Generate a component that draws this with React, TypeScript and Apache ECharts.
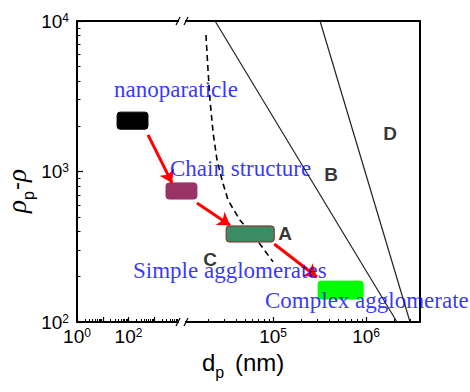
import React, { useEffect, useRef } from 'react';
import * as echarts from 'echarts';

// ---- broken x axis: 10^0..10^4 compressed, 10^4..max at full scale ----
const K = 25.75 / 93;
const toU = (d: number) => {
  const l = Math.log10(d);
  return l <= 4 ? l * K : 4 * K + (l - 4);
};
const fromU = (u: number) => (u <= 4 * K + 1e-9 ? Math.pow(10, u / K) : Math.pow(10, 4 + u - 4 * K));

const xMin = 1;
const xMax = 3.8e6;
const xBreakAt = 1e4;
const yMin = 100;
const yMax = 10000;

const xMajorTicks = [1, 10, 100, 1000, 1e5, 1e6];
const xTickLabels = [1, 100, 1e5, 1e6];
const yMajorTicks = [100, 1000, 10000];
const minorMultipliers = [2, 3, 4, 5, 6, 7, 8, 9];
const xMinorDecades = [1, 10, 100, 1000, 1e4, 1e5, 1e6];
const yMinorDecades = [100, 1000];

// ---- curves (dp in nm, rho) ----
const dashedDp = [19000, 20000, 21000, 22700, 25000, 28300, 32800, 44000, 67000, 100000];
const dashedRho = [8070, 4720, 2985, 1800, 1192, 877, 646, 476, 351, 251];
const lineBDp = [23800, 2150000];
const lineBRho = [10000, 100];
const lineDDp = [320000, 2970000];
const lineDRho = [10000, 100];

// ---- boxes: [dpMin, dpMax, rhoMin, rhoMax] ----
const boxDpMin = [36, 2860, 31300, 305000];
const boxDpMax = [570, 15200, 103000, 930000];
const boxRhoMin = [1910, 656, 340, 142];
const boxRhoMax = [2480, 840, 435, 187];
const boxFill = ['#000000', '#993366', '#3a8c62', '#00ff00'];
const boxStroke = ['#000000', '#993366', '#8b2525', '#00ff00'];

// ---- arrows ----
const arrowFromDp = [572, 15200, 103000];
const arrowFromRho = [1750, 618, 330];
const arrowToDp = [4890, 34500, 297000];
const arrowToRho = [840, 440, 199];

// ---- annotations ----
const annotTexts = ['nanoparaticle', 'Chain structure', 'Simple agglomerates', 'Complex agglomerate'];
const annotDp = [27.4, 4090, 150, 82000];
const annotRho = [3480, 1047, 219, 139];
const regionNames = ['A', 'B', 'C', 'D'];
const regionDp = [135000, 420000, 21000, 1810000];
const regionRho = [390, 962, 262, 1775];

const minorList = (decades: number[], lo: number, hi: number) => {
  const out: number[] = [];
  decades.forEach((d) => minorMultipliers.forEach((m) => {
    const v = d * m;
    if (v > lo && v < hi) out.push(v);
  }));
  return out;
};

const tickRich = {
  b: { fontSize: 19, lineHeight: 19, fontFamily: 'Liberation Sans', color: '#000', verticalAlign: 'top' as const },
  s: { fontSize: 12, lineHeight: 7, fontFamily: 'Liberation Sans', color: '#000', verticalAlign: 'top' as const },
};

export default function App() {
  const ref = useRef<HTMLDivElement>(null);
  useEffect(() => {
    document.body.style.margin = '0';
    if (!ref.current) return;
    const chart = echarts.init(ref.current, null, { renderer: 'svg' });
    const uMax = toU(xMax);
    const xMinor = minorList(xMinorDecades, xMin, xMax);
    const yMinor = minorList(yMinorDecades, yMin, yMax);
    const lineWidthAxis = 2;

    const option: any = {
      animation: false,
      backgroundColor: '#fff',
      grid: { left: 77, right: 50, top: 21, bottom: 70, containLabel: false },
      xAxis: [
        {
          type: 'value', min: toU(xMin), max: uMax, position: 'bottom',
          axisLine: { show: true, onZero: false, lineStyle: { color: '#000', width: lineWidthAxis } },
          axisTick: { show: true, inside: true, length: 5, lineStyle: { color: '#000', width: 1.2 }, customValues: xMajorTicks.map(toU) },
          axisLabel: {
            show: true, margin: 5, customValues: xTickLabels.map(toU),
            fontSize: 19, fontFamily: 'Liberation Sans', color: '#000',
            formatter: (v: number) => `{b|10}{s|${Math.round(Math.log10(fromU(v)))}}`,
            rich: tickRich,
          },
          splitLine: { show: false },
        },
        {
          type: 'value', min: toU(xMin), max: uMax, position: 'bottom',
          axisLine: { show: false },
          axisTick: { show: true, inside: true, length: 3, lineStyle: { color: '#000', width: 1 }, customValues: xMinor.map(toU) },
          axisLabel: { show: false },
          splitLine: { show: false },
        },
        {
          type: 'value', min: toU(xMin), max: uMax, position: 'top',
          axisLine: { show: true, onZero: false, lineStyle: { color: '#000', width: lineWidthAxis } },
          axisTick: { show: false }, axisLabel: { show: false }, splitLine: { show: false },
        },
      ],
      yAxis: [
        {
          type: 'log', logBase: 10, min: yMin, max: yMax, position: 'left',
          axisLine: { show: true, onZero: false, lineStyle: { color: '#000', width: lineWidthAxis } },
          axisTick: { show: true, inside: true, length: 6, lineStyle: { color: '#000', width: 1.2 }, customValues: yMajorTicks },
          axisLabel: {
            show: true, margin: 8, customValues: yMajorTicks,
            fontSize: 19, fontFamily: 'Liberation Sans', color: '#000',
            formatter: (v: number) => `{b|10}{s|${Math.round(Math.log10(v))}}`,
            rich: tickRich,
          },
          splitLine: { show: false },
        },
        {
          type: 'log', logBase: 10, min: yMin, max: yMax, position: 'left',
          axisLine: { show: false },
          axisTick: { show: true, inside: true, length: 3.5, lineStyle: { color: '#000', width: 1 }, customValues: yMinor },
          axisLabel: { show: false }, splitLine: { show: false },
        },
        {
          type: 'log', logBase: 10, min: yMin, max: yMax, position: 'right',
          axisLine: { show: true, onZero: false, lineStyle: { color: '#000', width: lineWidthAxis } },
          axisTick: { show: false }, axisLabel: { show: false }, splitLine: { show: false },
        },
      ],
      series: [
        {
          type: 'line', xAxisIndex: 0, yAxisIndex: 0, symbol: 'none', z: 2,
          lineStyle: { color: '#000', width: 1.6, type: [6, 4] },
          data: dashedDp.map((d, i) => [toU(d), dashedRho[i]]),
        },
        {
          type: 'line', xAxisIndex: 0, yAxisIndex: 0, symbol: 'none', z: 2,
          lineStyle: { color: '#222', width: 1.2 },
          data: lineBDp.map((d, i) => [toU(d), lineBRho[i]]),
        },
        {
          type: 'line', xAxisIndex: 0, yAxisIndex: 0, symbol: 'none', z: 2,
          lineStyle: { color: '#222', width: 1.2 },
          data: lineDDp.map((d, i) => [toU(d), lineDRho[i]]),
        },
        {
          type: 'custom', xAxisIndex: 0, yAxisIndex: 0, z: 3,
          data: boxDpMin.map((d, i) => [toU(d), boxRhoMax[i], toU(boxDpMax[i]), boxRhoMin[i]]),
          renderItem: (params: any, api: any) => {
            const p1 = api.coord([api.value(0), api.value(1)]);
            const p2 = api.coord([api.value(2), api.value(3)]);
            const i = params.dataIndex;
            return {
              type: 'rect',
              shape: { x: Math.min(p1[0], p2[0]), y: Math.min(p1[1], p2[1]), width: Math.abs(p2[0] - p1[0]), height: Math.abs(p2[1] - p1[1]), r: 3 },
              style: { fill: boxFill[i], stroke: boxStroke[i], lineWidth: 1 },
            };
          },
        },
        {
          type: 'lines', coordinateSystem: 'cartesian2d', xAxisIndex: 0, yAxisIndex: 0, z: 4,
          symbol: ['none', 'arrow'], symbolSize: 12,
          lineStyle: { color: '#ff0000', width: 3, opacity: 1, curveness: 0 },
          data: arrowFromDp.map((d, i) => ({ coords: [[toU(d), arrowFromRho[i]], [toU(arrowToDp[i]), arrowToRho[i]]] })),
        },
        {
          type: 'scatter', xAxisIndex: 0, yAxisIndex: 0, symbolSize: 0, z: 6, silent: true,
          label: {
            show: true, position: 'right', distance: 0,
            formatter: (p: any) => annotTexts[p.dataIndex],
            fontFamily: 'Liberation Serif', fontSize: 23, color: '#0000ff',
            textBorderWidth: 0,
          },
          data: annotDp.map((d, i) => [toU(d), annotRho[i]]),
        },
        {
          type: 'scatter', xAxisIndex: 0, yAxisIndex: 0, symbolSize: 0, z: 6, silent: true,
          label: {
            show: true, position: 'inside',
            formatter: (p: any) => regionNames[p.dataIndex],
            fontFamily: 'Liberation Sans', fontWeight: 'bold', fontSize: 19, color: '#000000',
            textBorderWidth: 0, textBorderColor: 'transparent',
          },
          data: regionDp.map((d, i) => [toU(d), regionRho[i]]),
        },
      ],
      graphic: [
        {
          type: 'text', x: 202, y: 362,
          style: {
            text: '{d|d}{s|p}{d| (nm)}', align: 'left', verticalAlign: 'middle',
            rich: {
              d: { fontSize: 24, lineHeight: 24, fontFamily: 'Liberation Sans', fill: '#000', verticalAlign: 'top' },
              s: { fontSize: 16, lineHeight: 16, fontFamily: 'Liberation Sans', fill: '#000', verticalAlign: 'top', padding: [14, 4, 0, 0] },
            },
          },
        },
        {
          type: 'text', x: 17, y: 191, rotation: Math.PI / 2,
          style: {
            text: '{r|ρ}{s|p}{m|-}{r|ρ}', align: 'center', verticalAlign: 'middle',
            rich: {
              r: { fontSize: 27, lineHeight: 27, fontFamily: 'Liberation Serif', fontStyle: 'italic', fill: '#000', verticalAlign: 'top' },
              m: { fontSize: 24, lineHeight: 27, fontFamily: 'Liberation Sans', fill: '#000', verticalAlign: 'top' },
              s: { fontSize: 16, lineHeight: 16, fontFamily: 'Liberation Sans', fill: '#000', verticalAlign: 'top', padding: [17, 1, 0, 0] },
            },
          },
        },
      ],
    };
    chart.setOption(option);

    // axis-break marks on top and bottom axis lines
    const pb = chart.convertToPixel({ xAxisIndex: 0, yAxisIndex: 0 }, [toU(xBreakAt), yMin]) as number[];
    const pt = chart.convertToPixel({ xAxisIndex: 0, yAxisIndex: 0 }, [toU(xBreakAt), yMax]) as number[];
    const marks: any[] = [];
    [pb, pt].forEach((p) => {
      const bx = p[0] + 2;
      const by = p[1];
      marks.push({ type: 'rect', z: 100, shape: { x: bx - 3, y: by - 2, width: 6, height: 4 }, style: { fill: '#fff' } });
      marks.push({ type: 'line', z: 101, shape: { x1: bx - 6, y1: by + 4, x2: bx - 2, y2: by - 4 }, style: { stroke: '#000', lineWidth: 1.2 } });
      marks.push({ type: 'line', z: 101, shape: { x1: bx + 2, y1: by + 4, x2: bx + 6, y2: by - 4 }, style: { stroke: '#000', lineWidth: 1.2 } });
    });
    chart.setOption({ graphic: [...option.graphic, ...marks] });

    return () => chart.dispose();
  }, []);
  return <div ref={ref} style={{ width: 470, height: 392 }} />;
}
